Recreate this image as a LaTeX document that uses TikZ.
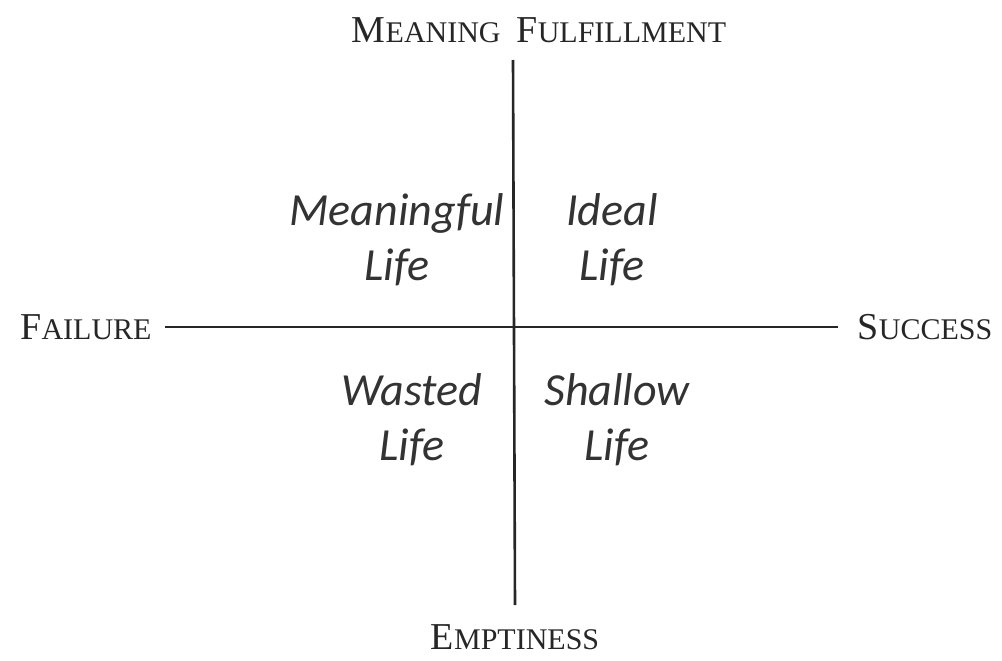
\documentclass[tikz,border=0pt]{standalone}
\usepackage{fontspec}
\setmainfont{Liberation Serif}
\newfontfamily\carl{Carlito}
\newcommand{\bigsc}[2]{{\fontsize{38}{42}\selectfont #1}{\fontsize{30}{34}\selectfont #2}}
\begin{document}
\begin{tikzpicture}[x=1pt,y=-1pt,
  axis/.style={line width=2.6pt,black!85},
  lab/.style={inner sep=0pt,anchor=center,black!85},
  quad/.style={inner sep=0pt,align=center,font=\carl\itshape\fontsize{46}{55}\selectfont,black!80}]
\useasboundingbox (0,0) rectangle (1002,661);
\coordinate (top) at (513,60);
\coordinate (bot) at (515,605);
\coordinate (lft) at (165,327);
\coordinate (rgt) at (838,327);
\draw[axis] (top) -- (bot);
\draw[axis] (lft) -- (rgt);
\node[lab] (mf) at (539,30) {\bigsc{M}{EANING}\hspace{16pt}\bigsc{F}{ULFILLMENT}};
\node[lab] (fa) at (86,327) {\bigsc{F}{AILURE}};
\node[lab] (su) at (925,327) {\bigsc{S}{UCCESS}};
\node[lab] (em) at (515,637) {\bigsc{E}{MPTINESS}};
\node[quad] (ml) at (397,240) {Meaningful\\Life};
\node[quad] (il) at (612,240) {Ideal\\Life};
\node[quad] (wl) at (412,420) {Wasted\\Life};
\node[quad] (sl) at (617,420) {Shallow\\Life};
\end{tikzpicture}
\end{document}
